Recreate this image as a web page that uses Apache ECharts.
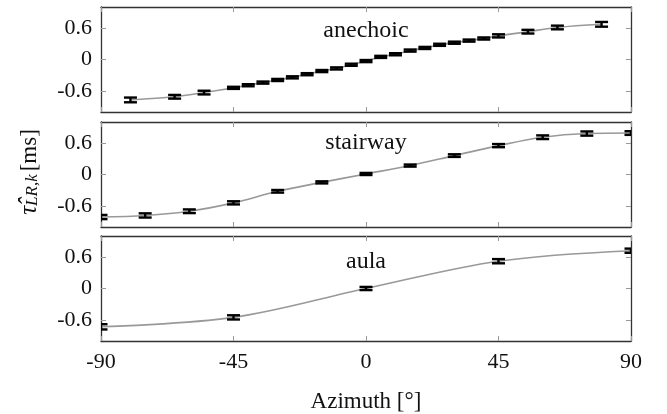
<!DOCTYPE html>
<html><head><meta charset="utf-8">
<script src="https://cdn.jsdelivr.net/npm/echarts@6/dist/echarts.min.js"></script>
<style>html,body{margin:0;padding:0;background:#fff}#c{width:667px;height:414px}</style>
</head><body><div id="c"></div>
<script>
const panelNames = ['anechoic', 'stairway', 'aula'];
const xTicks = [-90, -45, 0, 45, 90];
const yTicks = [-0.6, 0, 0.6];

const anechoicAz  = [-80, -65, -55, -45, -40, -35, -30, -25, -20, -15, -10, -5, 0, 5, 10, 15, 20, 25, 30, 35, 40, 45, 55, 65, 80];
const anechoicVal = [-0.77, -0.71, -0.63, -0.54, -0.49, -0.44, -0.39, -0.34, -0.28, -0.22, -0.17, -0.10, -0.03, 0.05, 0.10, 0.17, 0.22, 0.28, 0.32, 0.36, 0.40, 0.45, 0.53, 0.61, 0.67];
const anechoicErr = [0.045, 0.035, 0.035, 0.02, 0.02, 0.02, 0.02, 0.02, 0.02, 0.02, 0.02, 0.02, 0.02, 0.02, 0.02, 0.02, 0.02, 0.02, 0.02, 0.02, 0.02, 0.03, 0.035, 0.035, 0.045];

const stairwayAz  = [-90, -75, -60, -45, -30, -15, 0, 15, 30, 45, 60, 75, 90];
const stairwayVal = [-0.81, -0.78, -0.70, -0.54, -0.32, -0.15, 0.01, 0.17, 0.36, 0.55, 0.71, 0.78, 0.79];
const stairwayErr = [0.04, 0.04, 0.035, 0.03, 0.025, 0.02, 0.02, 0.02, 0.025, 0.03, 0.035, 0.04, 0.035];

const aulaAz  = [-90, -45, 0, 45, 90];
const aulaVal = [-0.73, -0.55, 0.0, 0.52, 0.72];
const aulaErr = [0.05, 0.04, 0.03, 0.04, 0.04];

const panels = [
  {az: anechoicAz, val: anechoicVal, err: anechoicErr},
  {az: stairwayAz, val: stairwayVal, err: stairwayErr},
  {az: aulaAz, val: aulaVal, err: aulaErr}
];

const FONT = '"Liberation Serif", "DejaVu Serif", serif';
const gridTops = [7, 122, 236];
const titleOffsets = [12, 9, 14];
const gridH = 105;
const frameColor = '#333';
const tickColor = '#999';

const grid = [], xAxis = [], yAxis = [], series = [], title = [];
gridTops.forEach((t, i) => {
  grid.push({left: 101, right: 36, top: t, height: gridH, show: false});
  const isLast = i === gridTops.length - 1;
  ['bottom', 'top'].forEach(pos => {
    xAxis.push({
      type: 'value', gridIndex: i, position: pos, min: -90, max: 90, interval: 45,
      axisLine: {show: true, onZero: false, lineStyle: {color: frameColor, width: 1.3}},
      axisTick: {show: true, inside: true, length: 5, lineStyle: {color: tickColor, width: 1}},
      axisLabel: {show: isLast && pos === 'bottom', fontFamily: FONT, fontSize: 22, color: '#111', margin: 10},
      splitLine: {show: false},
      name: (isLast && pos === 'bottom') ? 'Azimuth [°]' : '',
      nameLocation: 'middle', nameGap: 49,
      nameTextStyle: {fontFamily: FONT, fontSize: 23, color: '#111'}
    });
  });
  ['left', 'right'].forEach(pos => {
    yAxis.push({
      type: 'value', gridIndex: i, position: pos, min: -1, max: 1,
      axisLine: {show: true, onZero: false, lineStyle: {color: frameColor, width: 1.3}},
      axisTick: {show: true, inside: true, length: 5, customValues: yTicks, lineStyle: {color: tickColor, width: 1}},
      axisLabel: {show: pos === 'left', customValues: yTicks, fontFamily: FONT, fontSize: 22, color: '#111', margin: 9,
        formatter: v => String(v)},
      splitLine: {show: false}
    });
  });
  const p = panels[i];
  series.push({
    type: 'line', xAxisIndex: i * 2, yAxisIndex: i * 2,
    data: p.az.map((a, k) => [a, p.val[k]]),
    smooth: 0.35, symbol: 'none', clip: true,
    lineStyle: {color: '#999', width: 1.6}, z: 2
  });
  series.push({
    type: 'custom', xAxisIndex: i * 2, yAxisIndex: i * 2, clip: true, z: 3,
    data: p.az.map((a, k) => [a, p.val[k], p.err[k]]),
    renderItem: (params, api) => {
      const x = api.value(0), y = api.value(1), e = api.value(2);
      const top = api.coord([x, y + e]);
      const bot = api.coord([x, y - e]);
      const w = 6.5;
      const st = {stroke: '#000', lineWidth: 2.4};
      return {type: 'group', children: [
        {type: 'line', shape: {x1: top[0], y1: top[1], x2: bot[0], y2: bot[1]}, style: st},
        {type: 'line', shape: {x1: top[0] - w, y1: top[1], x2: top[0] + w, y2: top[1]}, style: st},
        {type: 'line', shape: {x1: bot[0] - w, y1: bot[1], x2: bot[0] + w, y2: bot[1]}, style: st}
      ]};
    }
  });
  title.push({text: panelNames[i], left: 366, top: t + titleOffsets[i], textAlign: 'center', padding: 0,
    textStyle: {fontFamily: FONT, fontSize: 24, fontWeight: 'normal', color: '#111'}});
});

const chart = echarts.init(document.getElementById('c'), null, {renderer: 'canvas'});
chart.setOption({
  animation: false,
  backgroundColor: '#fff',
  title, grid, xAxis, yAxis, series,
  graphic: [{
    type: 'text', x: 29, y: 172, rotation: Math.PI / 2,
    style: {
      text: '{t|τ̂}{s|LR,k}{n|[ms]}',
      align: 'center', verticalAlign: 'middle',
      rich: {
        t: {fontFamily: FONT, fontSize: 25, fontStyle: 'italic', fill: '#111', verticalAlign: 'bottom'},
        s: {fontFamily: FONT, fontSize: 17, fontStyle: 'italic', fill: '#111', verticalAlign: 'bottom', padding: [8, 3, 0, 0]},
        n: {fontFamily: FONT, fontSize: 23, fill: '#111', verticalAlign: 'bottom'}
      }
    }
  }]
});
</script></body></html>
